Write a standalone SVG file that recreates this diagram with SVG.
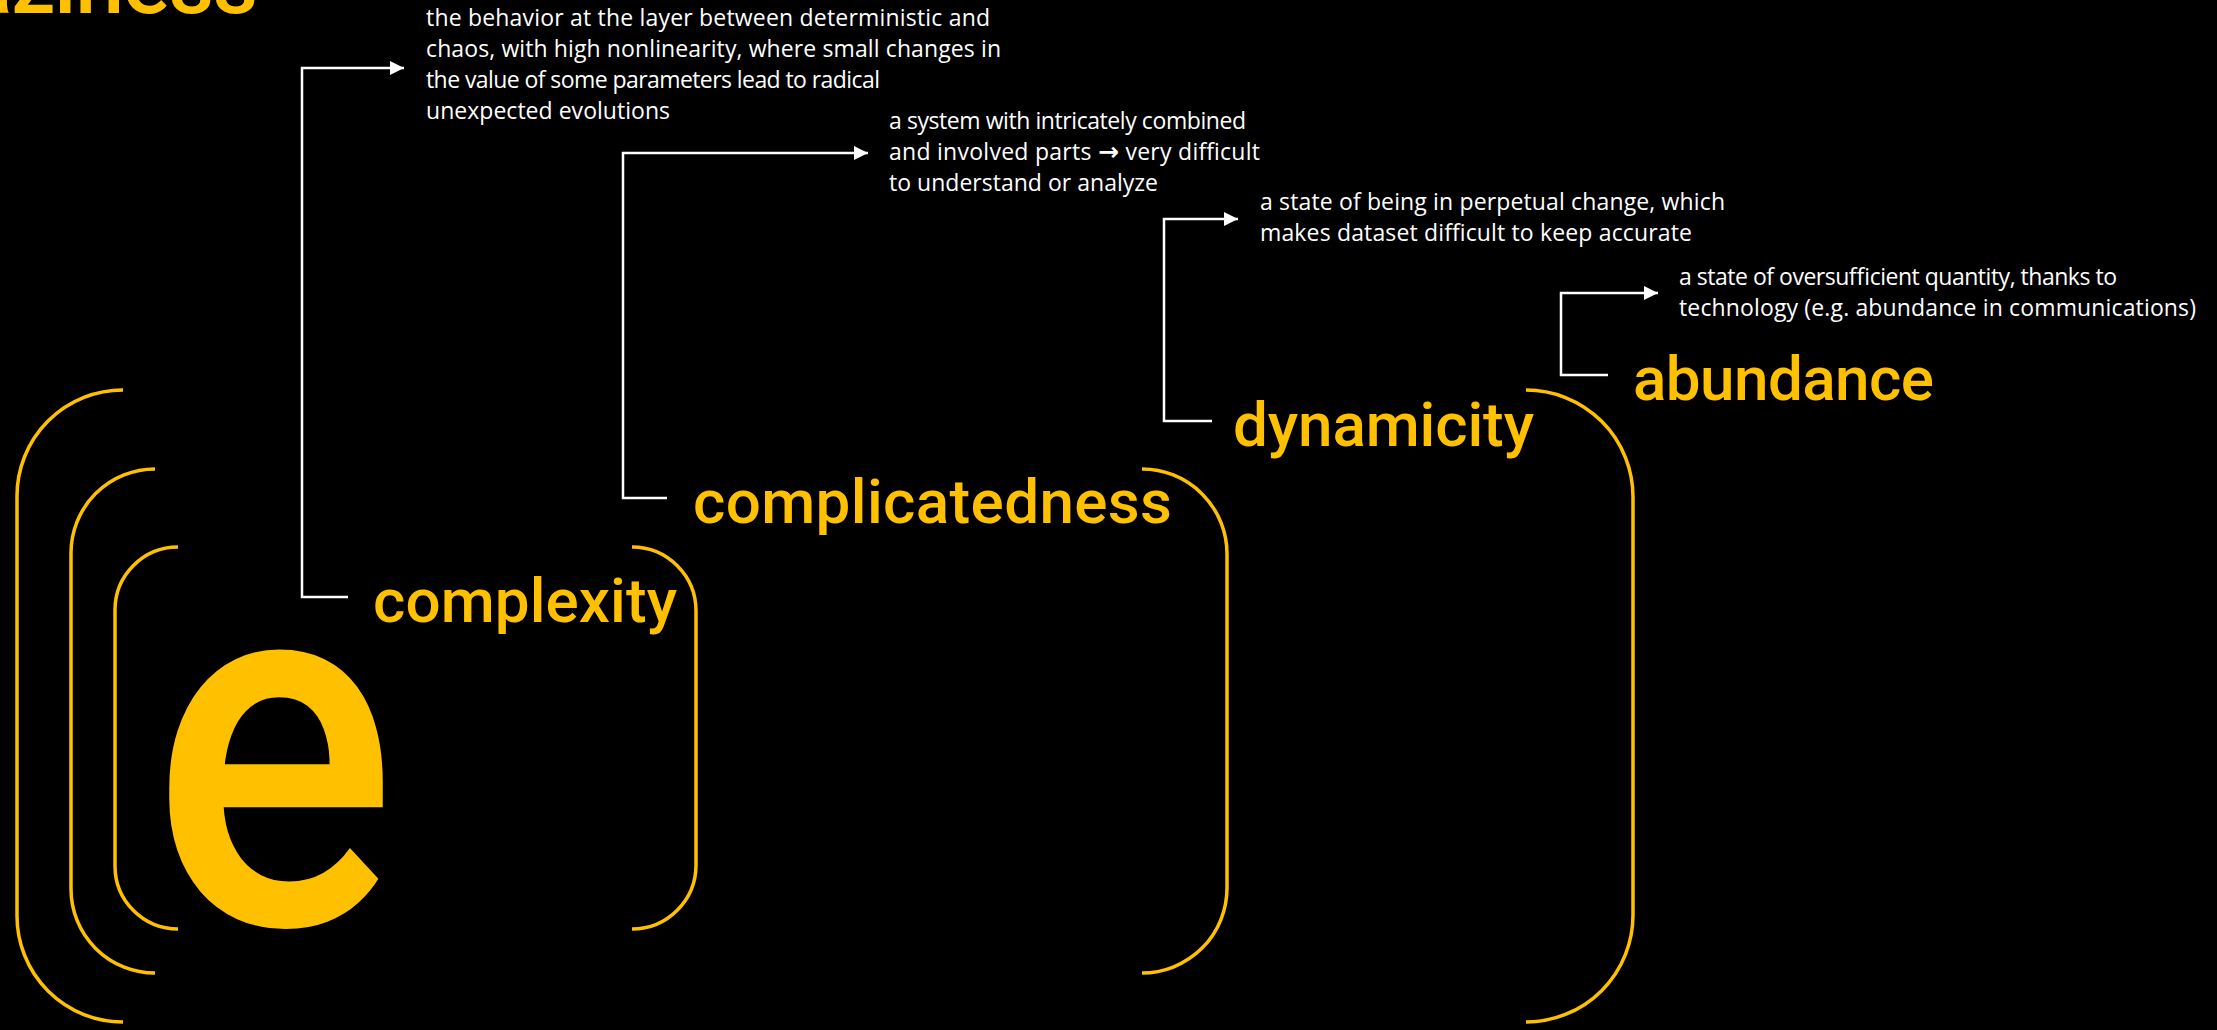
<svg xmlns="http://www.w3.org/2000/svg" width="2217" height="1030" viewBox="0 0 2217 1030">
  <style>
    .bg { fill: #000000; }
    .title { font-family: Roboto, "DejaVu Sans", sans-serif; font-weight: 500; fill: #FFC000; }
    .label { font-family: Roboto, "DejaVu Sans", sans-serif; font-weight: 500; font-size: 62px; fill: #FFC000; }
    .big { font-family: Roboto, "DejaVu Sans", sans-serif; font-weight: 500; font-size: 510px; fill: #FFC000; }
    .desc { font-family: "Open Sans", "Noto Sans", sans-serif; font-size: 23px; fill: #FFFFFF; }
    .sym { font-family: "DejaVu Sans", sans-serif; font-weight: bold; font-size: 25px; }
    .bracket { fill: none; stroke: #FFC000; stroke-width: 3.5; }
    .conn { fill: none; stroke: #FFFFFF; stroke-width: 2.5; marker-end: url(#ah); }
  </style>
  <defs>
    <marker id="ah" markerUnits="userSpaceOnUse" markerWidth="16" markerHeight="16" refX="14" refY="8" orient="auto">
      <path d="M0,1 L14,8 L0,15 Z" fill="#FFFFFF"/>
    </marker>
  </defs>
  <rect class="bg" x="0" y="0" width="2217" height="1030"/>

  <g id="title">
    <text class="title" x="-35" y="13" font-size="88" textLength="293">aziness</text>
  </g>

  <g id="brackets">
    <path class="bracket" d="M123,390 A106,106 0 0 0 17,496 V916 A106,106 0 0 0 123,1022"/>
    <path class="bracket" d="M155,469 A84,84 0 0 0 71,553 V889 A84,84 0 0 0 155,973"/>
    <path class="bracket" d="M178,547 A63,63 0 0 0 115,610 V866 A63,63 0 0 0 178,929"/>
    <path class="bracket" d="M632,547 A64,64 0 0 1 696,611 V865 A64,64 0 0 1 632,929"/>
    <path class="bracket" d="M1142,469 A85,85 0 0 1 1227,554 V888 A85,85 0 0 1 1142,973"/>
    <path class="bracket" d="M1526,390 A107,107 0 0 1 1633,497 V915 A107,107 0 0 1 1526,1022"/>
  </g>

  <g id="e-letter">
    <text class="big" x="0" y="0" transform="translate(151,924) scale(0.9,1)">e</text>
  </g>

  <g id="complexity">
    <text class="label" x="373" y="622" textLength="304">complexity</text>
  </g>
  <g id="complicatedness">
    <text class="label" x="693" y="523" textLength="479">complicatedness</text>
  </g>
  <g id="dynamicity">
    <text class="label" x="1233" y="446" textLength="301">dynamicity</text>
  </g>
  <g id="abundance">
    <text class="label" x="1633" y="400" textLength="301">abundance</text>
  </g>

  <g id="complexity-desc">
    <text class="desc" x="426" y="26" textLength="564">the behavior at the layer between deterministic and</text>
    <text class="desc" x="426" y="57" textLength="575">chaos, with high nonlinearity, where small changes in</text>
    <text class="desc" x="426" y="88" textLength="454">the value of some parameters lead to radical</text>
    <text class="desc" x="426" y="119" textLength="244">unexpected evolutions</text>
  </g>
  <g id="complicatedness-desc">
    <text class="desc" x="889" y="129" textLength="357">a system with intricately combined</text>
    <text class="desc" x="889" y="160" textLength="371">and involved parts <tspan class="sym">→</tspan> very difficult</text>
    <text class="desc" x="889" y="191" textLength="269">to understand or analyze</text>
  </g>
  <g id="dynamicity-desc">
    <text class="desc" x="1260" y="210" textLength="465">a state of being in perpetual change, which</text>
    <text class="desc" x="1260" y="241" textLength="432">makes dataset difficult to keep accurate</text>
  </g>
  <g id="abundance-desc">
    <text class="desc" x="1679" y="285" textLength="438">a state of oversufficient quantity, thanks to</text>
    <text class="desc" x="1679" y="316" textLength="517">technology (e.g. abundance in communications)</text>
  </g>

  <g id="connectors">
    <path class="conn" d="M348,597 H302 V68 H404"/>
    <path class="conn" d="M667,498 H623 V153 H868"/>
    <path class="conn" d="M1212,421 H1164 V219 H1238"/>
    <path class="conn" d="M1608,375 H1561 V293 H1658"/>
  </g>
</svg>
